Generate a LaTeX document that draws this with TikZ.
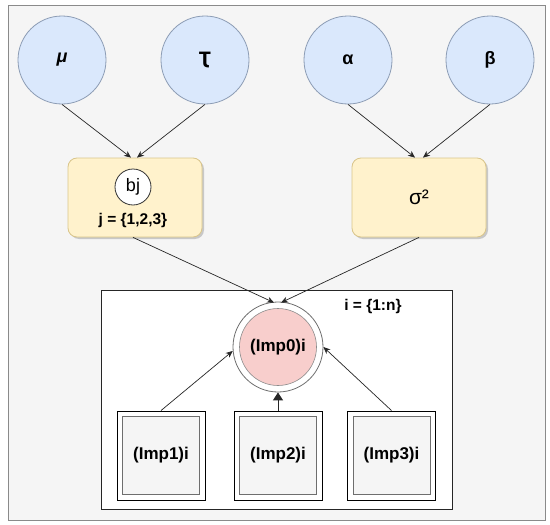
\documentclass[tikz,border=0pt]{standalone}
\usepackage{fontspec}
\setmainfont{Liberation Sans}
\newfontfamily\djv{DejaVu Sans}
\usetikzlibrary{arrows.meta,shadows}
\definecolor{bgc}{HTML}{F5F5F5}
\definecolor{framec}{HTML}{8A8A8A}
\definecolor{bluef}{HTML}{DAE8FC}
\definecolor{bluel}{HTML}{8C9CB4}
\definecolor{yelf}{HTML}{FFF2CC}
\definecolor{yell}{HTML}{D9C58A}
\definecolor{pinkf}{HTML}{F8CECC}
\definecolor{ringl}{HTML}{6E6E6E}
\tikzset{
  param/.style={circle,draw=bluel,fill=bluef,line width=0.8pt,minimum size=88pt,inner sep=0pt,font=\fontsize{18}{20}\selectfont\bfseries},
  ybox/.style={rounded corners=9pt,draw=yell,fill=yelf,line width=0.8pt,minimum width=134pt,minimum height=79pt,inner sep=0pt,
     drop shadow={shadow xshift=2pt,shadow yshift=-2pt,fill=black,opacity=0.18}},
  impbox/.style={draw=black,fill=white,line width=0.9pt,minimum width=88pt,minimum height=89pt,inner sep=0pt},
  impin/.style={draw=ringl,fill=bgc,line width=0.7pt,minimum width=77pt,minimum height=78pt,inner sep=0pt,font=\fontsize{17}{19}\selectfont\bfseries},
  arr/.style={draw=black!85,line width=0.7pt,-{Stealth[length=7pt,width=6pt]}},
  lbl/.style={inner sep=0pt,font=\fontsize{15.5}{18}\selectfont\bfseries}
}
\begin{document}
\begin{tikzpicture}[x=1pt,y=-1pt]
\useasboundingbox (0,0) rectangle (550,525);
\node[draw=framec,fill=bgc,line width=1pt,minimum width=537pt,minimum height=515pt,inner sep=0pt,anchor=north west] (frame) at (7.5,5) {};
% parameters
\node[param] (mu) at (62,60) {\itshape μ};
\node[param] (tau) at (205,60) {\djv\bfseries\fontsize{17}{19}\selectfont Ʈ};
\node[param] (alpha) at (348,60) {α};
\node[param] (beta) at (490,60) {β};
% yellow boxes
\node[ybox] (bjbox) at (135,197.5) {};
\node[circle,draw=black!80,fill=white,line width=0.8pt,minimum size=36pt,inner sep=0pt,font=\fontsize{18}{20}\selectfont] (bj) at (133,187) {bj};
\node[lbl] (jlab) at (133,220) {j = \{1,2,3\}};
\node[ybox,font=\fontsize{21}{23}\selectfont] (sigbox) at (419,197.5) {σ²};
% plate
\node[draw=black!85,fill=white,line width=1pt,minimum width=351pt,minimum height=219pt,inner sep=0pt,anchor=north west] (plate) at (101,290) {};
\node[lbl] (ilab) at (373,306) {i = \{1:n\}};
% Imp0
\node[circle,draw=ringl,fill=white,line width=0.8pt,minimum size=90pt,inner sep=0pt] (imp0) at (278,347) {};
\node[circle,draw=ringl!80,fill=pinkf,line width=0.6pt,minimum size=77pt,inner sep=0pt,font=\fontsize{17}{19}\selectfont\bfseries] (imp0in) at (278,347) {(Imp0)i};
% Imp boxes
\node[impbox] (imp1) at (161,455.5) {};
\node[impin] (imp1in) at (161,455.5) {(Imp1)i};
\node[impbox] (imp2) at (278,455.5) {};
\node[impin] (imp2in) at (278,455.5) {(Imp2)i};
\node[impbox] (imp3) at (391.5,455.5) {};
\node[impin] (imp3in) at (391.5,455.5) {(Imp3)i};
% edges
\draw[arr] (mu.south) -- ([xshift=-4pt]bjbox.north);
\draw[arr] (tau.south) -- ([xshift=2pt]bjbox.north);
\draw[arr] (alpha.south) -- ([xshift=-4pt]sigbox.north);
\draw[arr] (beta.south) -- ([xshift=4pt]sigbox.north);
\draw[arr] ([xshift=-2pt]bjbox.south) -- ([xshift=-4pt,yshift=-1pt]imp0.north);
\draw[arr] (sigbox.south) -- ([xshift=3pt,yshift=-1pt]imp0.north);
\draw[arr] (imp1.north) -- (imp0.185);
\draw[arr] (imp3.north) -- (imp0.0);
\draw[draw=black!85,line width=0.9pt,-{Triangle[length=8pt,width=10pt]}] (imp2.north) -- (imp0.south);
\end{tikzpicture}
\end{document}
